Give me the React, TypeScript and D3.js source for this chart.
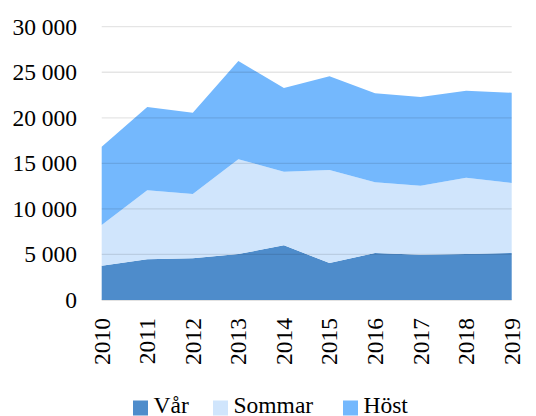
import React, { useEffect, useRef } from "react";
import { select, scaleLinear, scalePoint, stack, area, stackOrderNone } from "d3";

const years = ["2010", "2011", "2012", "2013", "2014", "2015", "2016", "2017", "2018", "2019"];
const var_ = [3770, 4470, 4580, 5050, 6000, 4060, 5160, 4970, 5050, 5160];
const sommar = [4460, 7570, 7060, 10390, 8090, 10210, 7760, 7580, 8380, 7680];
const host = [8600, 9150, 8920, 10790, 9180, 10280, 9770, 9730, 9550, 9910];
const yTicks = [0, 5000, 10000, 15000, 20000, 25000, 30000];
const seriesNames = ["Vår", "Sommar", "Höst"];
const colors = ["#4e8ccb", "#d0e5fc", "#74b8fd"];

const W = 536;
const H = 416;
const FONT = "'Liberation Serif', 'DejaVu Serif', serif";
const FS = 23.5;

const App = () => {
  const svgRef = useRef<SVGSVGElement>(null);

  useEffect(() => {
    const svg = select(svgRef.current);
    svg.selectAll("*").remove();

    const data = years.map((y, i) => ({ year: y, "Vår": var_[i], Sommar: sommar[i], "Höst": host[i] }));
    const layers = stack<any>().keys(seriesNames).order(stackOrderNone)(data);

    const x = scalePoint().domain(years).range([101.7, 511.7]);
    const y = scaleLinear().domain([0, 30000]).range([300, 26.7]);

    // axis base line
    svg.append("line")
      .attr("x1", 101.7).attr("x2", 511.7)
      .attr("y1", y(0)).attr("y2", y(0))
      .attr("stroke", "#d9d9d9").attr("stroke-width", 1.3);

    const areaGen = area<any>()
      .x((d) => x(d.data.year)!)
      .y0((d) => y(d[0]))
      .y1((d) => y(d[1]));

    svg.selectAll(".layer")
      .data(layers)
      .join("path")
      .attr("class", "layer")
      .attr("fill", (d, i) => colors[i])
      .attr("d", areaGen);

    // gridlines over the areas
    svg.selectAll(".grid")
      .data(yTicks.slice(1))
      .join("line")
      .attr("class", "grid")
      .attr("x1", 101.7).attr("x2", 511.7)
      .attr("y1", (d) => y(d)).attr("y2", (d) => y(d))
      .attr("stroke", "#000")
      .attr("stroke-opacity", 0.1)
      .attr("stroke-width", 1.3);

    // y tick labels
    svg.selectAll(".ylab")
      .data(yTicks)
      .join("text")
      .attr("class", "ylab")
      .attr("x", 77)
      .attr("y", (d) => y(d))
      .attr("dy", "0.34em")
      .attr("text-anchor", "end")
      .attr("font-family", FONT)
      .attr("font-size", FS)
      .attr("fill", "#000")
      .text((d) => (d >= 1000 ? `${Math.floor(d / 1000)} 000` : `${d}`));

    // x tick labels, rotated
    svg.selectAll(".xlab")
      .data(years)
      .join("text")
      .attr("class", "xlab")
      .attr("transform", (d) => `translate(${x(d)! + 8},318) rotate(-90)`)
      .attr("text-anchor", "end")
      .attr("font-family", FONT)
      .attr("font-size", FS)
      .attr("fill", "#000")
      .text((d) => d);

    // legend
    const legendX = [133, 213, 343];
    const leg = svg.selectAll(".leg")
      .data(seriesNames)
      .join("g")
      .attr("class", "leg")
      .attr("transform", (d, i) => `translate(${legendX[i]},0)`);
    leg.append("rect")
      .attr("x", 0).attr("y", 400.5)
      .attr("width", 15).attr("height", 15)
      .attr("fill", (d, i) => colors[i]);
    leg.append("text")
      .attr("x", 20.5).attr("y", 413)
      .attr("font-family", FONT)
      .attr("font-size", FS)
      .attr("fill", "#000")
      .text((d) => d);
  }, []);

  return (
    <svg ref={svgRef} width={W} height={H}
      style={{ position: "absolute", left: 0, top: 0, background: "#fff" }} />
  );
};

export default App;
